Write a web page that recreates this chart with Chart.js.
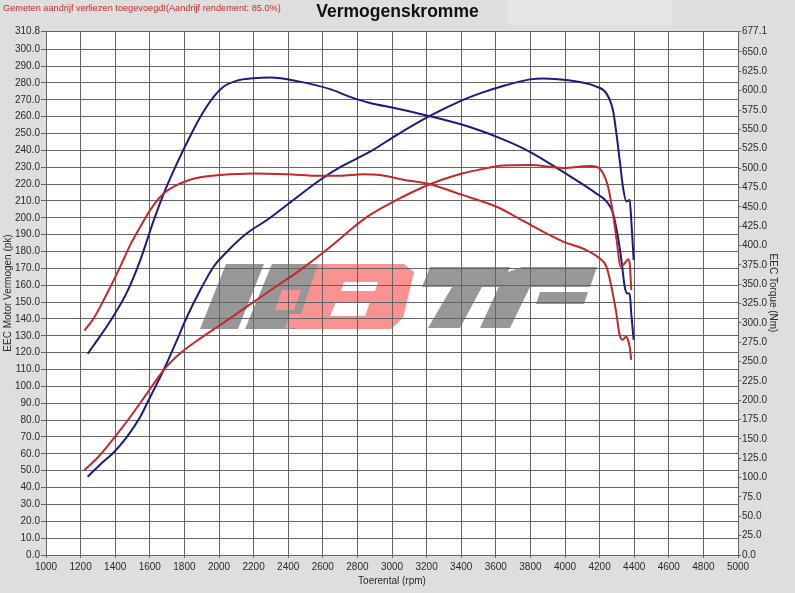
<!DOCTYPE html>
<html>
<head>
<meta charset="utf-8">
<title>Vermogenskromme</title>
<script src="https://cdn.jsdelivr.net/npm/chart.js@4/dist/chart.umd.min.js"></script>
<style>
  html, body { margin: 0; padding: 0; background: #dedede; }
  canvas { display: block; }
</style>
</head>
<body>
<canvas id="dyno" width="795" height="593"></canvas>
<script>
"use strict";

// --- Data ---
// Tuned (blue) power, left axis (pk)
const tunedPowerRpm = [1241, 1315, 1391, 1469, 1545, 1603, 1680, 1757, 1815, 1892, 1969, 2046, 2161, 2277, 2430, 2584, 2700, 2873, 3027, 3219, 3411, 3508, 3642, 3797, 3873, 4008, 4182, 4239, 4277, 4297, 4316, 4335, 4355, 4374, 4383, 4397];
const tunedPowerPk = [46.4, 53.8, 60.8, 70.2, 82.0, 93.9, 109.7, 127.5, 141.3, 157.2, 171.0, 179.9, 190.8, 198.7, 210.6, 222.4, 230.0, 239.2, 249.1, 260.4, 269.9, 273.8, 278.2, 282.1, 282.7, 281.7, 277.8, 273.8, 263.9, 250.1, 234.3, 218.4, 209.6, 210.6, 198.7, 175.0];

// Tuned (blue) torque, right axis (Nm)
const tunedTorqueRpm = [1241, 1276, 1382, 1469, 1545, 1622, 1690, 1757, 1815, 1892, 1969, 2026, 2104, 2200, 2296, 2459, 2642, 2758, 2873, 3027, 3219, 3450, 3642, 3797, 3989, 4182, 4239, 4277, 4306, 4326, 4345, 4360, 4374, 4383, 4397];
const tunedTorqueNm = [260, 271, 306, 340, 381, 432, 472, 506, 533, 566, 592, 605, 613, 616, 617, 612, 602, 592, 584, 577, 567, 553, 537, 521, 495, 467, 457, 442, 411, 381, 347, 338, 338, 312, 278];

// Stock (red) power, left axis (pk)
const stockPowerRpm = [1222, 1295, 1391, 1488, 1584, 1680, 1776, 1892, 2007, 2161, 2315, 2469, 2584, 2700, 2758, 2873, 3027, 3219, 3411, 3508, 3642, 3797, 3989, 4143, 4182, 4220, 4249, 4277, 4301, 4320, 4345, 4364, 4374, 4383];
const stockPowerPk = [50.4, 57.4, 69.2, 82.0, 95.9, 109.7, 119.6, 128.5, 136.4, 147.3, 158.2, 169.0, 177.9, 187.6, 192.8, 201.7, 210.6, 219.9, 226.4, 228.6, 231.0, 231.3, 229.6, 230.7, 230.3, 226.4, 218.4, 202.7, 184.9, 171.0, 173.0, 175.4, 173.0, 157.2];

// Stock (red) torque, right axis (Nm)
const stockTorqueRpm = [1222, 1276, 1353, 1430, 1488, 1545, 1603, 1680, 1776, 1892, 2007, 2200, 2392, 2584, 2700, 2834, 2931, 3065, 3219, 3411, 3604, 3700, 3854, 3989, 4124, 4201, 4239, 4268, 4297, 4316, 4335, 4351, 4364, 4374, 4383];
const stockTorqueNm = [290, 306, 338, 373, 401, 424, 446, 467, 480, 488, 491, 493, 492, 490, 490, 492, 491, 485, 479, 465, 450, 439, 420, 405, 394, 383, 373, 347, 312, 284, 278, 282, 278, 269, 252];

// Tick labels
const rpmTicks = [];
for (let r = 1000; r <= 5000; r += 200) rpmTicks.push(r);
const pkTicks = [];
for (let v = 0; v <= 300; v += 10) pkTicks.push(v);
pkTicks.push(310.8);
const nmTicks = [];
for (let v = 0; v <= 650; v += 25) nmTicks.push(v);
nmTicks.push(677.1);

const headerNote = 'Gemeten aandrijf verliezen toegevoegd!(Aandrijf rendement: 85.0%)';

// --- Styling ---
const FONT = "'Liberation Sans', Arial, sans-serif";
const gridColor = '#646464';
const tickColor = '#2a2a2a';
const blue = '#1b1b80';
const red = '#c42828';

const zip = (xs, ys) => xs.map((x, i) => ({ x, y: ys[i] }));

// Paints the grey sheet, white plot area, header note and the faded logo
// before the grid goes on top of it.
const sheetPlugin = {
    id: 'sheet',
    beforeDraw(chart) {
        const { ctx, chartArea: a, width, height } = chart;
        ctx.save();
        ctx.fillStyle = '#dedede';
        ctx.fillRect(0, 0, width, height);
        ctx.fillStyle = '#e7e6e8';
        ctx.fillRect(508, 0, 164, 25);
        ctx.fillStyle = '#ffffff';
        ctx.fillRect(a.left, a.top, a.right - a.left, a.bottom - a.top);

        // header note
        ctx.fillStyle = '#cc2a2a';
        ctx.font = `9.2px ${FONT}`;
        ctx.textBaseline = 'middle';
        ctx.textAlign = 'left';
        ctx.fillText(headerNote, 3, 8);

        // watermark logo
        const poly = (pts, color) => {
            ctx.fillStyle = color;
            ctx.beginPath();
            pts.forEach(([x, y], i) => (i ? ctx.lineTo(x, y) : ctx.moveTo(x, y)));
            ctx.closePath();
            ctx.fill();
        };
        const grey = '#979797';
        const pink = '#fb9292';
        poly([[226, 264], [264, 264], [238, 329], [200, 329]], grey);
        poly([[272, 264], [330, 264], [304, 329], [245, 329]], grey);
        poly([[318, 264], [404, 264], [414, 272], [403, 318], [391, 329], [296, 329]], pink);
        poly([[282, 290], [301, 290], [294, 310], [275, 310]], pink);
        poly([[290, 314], [311, 314], [306, 328], [285, 328]], pink);
        poly([[344, 282], [378, 282], [375, 291], [341, 291]], '#ffffff');
        poly([[336, 302], [370, 302], [365, 316], [330, 316]], '#ffffff');
        poly([[430, 267], [510, 267], [502, 287], [422, 287]], grey);
        poly([[452, 287], [482, 287], [460, 328], [428, 328]], grey);
        poly([[522, 267], [597, 267], [590, 287], [530, 287], [510, 328], [480, 328], [500, 284], [508, 272]], grey);
        poly([[540, 292], [588, 292], [584, 304], [536, 304]], grey);
        ctx.restore();
    }
};

const lineStyle = color => ({
    borderColor: color,
    backgroundColor: color,
    borderWidth: 2,
    pointRadius: 0,
    fill: false,
    cubicInterpolationMode: 'monotone'
});

new Chart(document.getElementById('dyno'), {
    type: 'line',
    data: {
        datasets: [
            { label: 'Vermogen standaard', data: zip(stockPowerRpm, stockPowerPk), yAxisID: 'y', ...lineStyle(red) },
            { label: 'Koppel standaard', data: zip(stockTorqueRpm, stockTorqueNm), yAxisID: 'y2', ...lineStyle(red) },
            { label: 'Vermogen getuned', data: zip(tunedPowerRpm, tunedPowerPk), yAxisID: 'y', ...lineStyle(blue) },
            { label: 'Koppel getuned', data: zip(tunedTorqueRpm, tunedTorqueNm), yAxisID: 'y2', ...lineStyle(blue) }
        ]
    },
    options: {
        responsive: false,
        devicePixelRatio: 1,
        animation: false,
        layout: { padding: 0 },
        plugins: {
            legend: { display: false },
            tooltip: { enabled: false },
            title: {
                display: true,
                text: 'Vermogenskromme',
                color: '#111',
                font: { family: FONT, size: 17.5, weight: 'bold', lineHeight: 1.2 },
                padding: { top: 2, bottom: 8 }
            }
        },
        scales: {
            x: {
                type: 'linear',
                min: 1000,
                max: 5000,
                afterBuildTicks: s => { s.ticks = rpmTicks.map(v => ({ value: v })); },
                afterFit: s => { s.height = 38; },
                ticks: { autoSkip: false, maxRotation: 0, color: tickColor, padding: 3, font: { family: FONT, size: 10 }, callback: v => String(v) },
                grid: { color: gridColor, lineWidth: 1, tickLength: 3 },
                border: { color: gridColor },
                title: { display: true, text: 'Toerental (rpm)', color: tickColor, font: { family: FONT, size: 10 }, padding: { top: 0, bottom: 6 } }
            },
            y: {
                type: 'linear',
                position: 'left',
                min: 0,
                max: 310.8,
                afterBuildTicks: s => { s.ticks = pkTicks.map(v => ({ value: v })); },
                afterFit: s => { s.width = 46; },
                ticks: { autoSkip: false, color: tickColor, padding: 1, font: { family: FONT, size: 10 }, callback: v => v.toFixed(1) },
                grid: { color: gridColor, lineWidth: 1, tickLength: 5 },
                border: { color: gridColor },
                title: { display: true, text: 'EEC Motor Vermogen (pk)', color: tickColor, font: { family: FONT, size: 10 }, padding: { top: 2, bottom: 0 } }
            },
            y2: {
                type: 'linear',
                position: 'right',
                min: 0,
                max: 677.1,
                afterBuildTicks: s => { s.ticks = nmTicks.map(v => ({ value: v })); },
                afterFit: s => { s.width = 57; },
                ticks: { autoSkip: false, color: tickColor, padding: 1, font: { family: FONT, size: 10 }, callback: v => v.toFixed(1) },
                grid: { drawOnChartArea: false, color: gridColor, tickLength: 3 },
                border: { color: gridColor },
                title: { display: true, text: 'EEC Torque (Nm)', color: tickColor, font: { family: FONT, size: 10 }, padding: { top: 16.5, bottom: 0 } }
            }
        }
    },
    plugins: [sheetPlugin]
});
</script>
</body>
</html>
